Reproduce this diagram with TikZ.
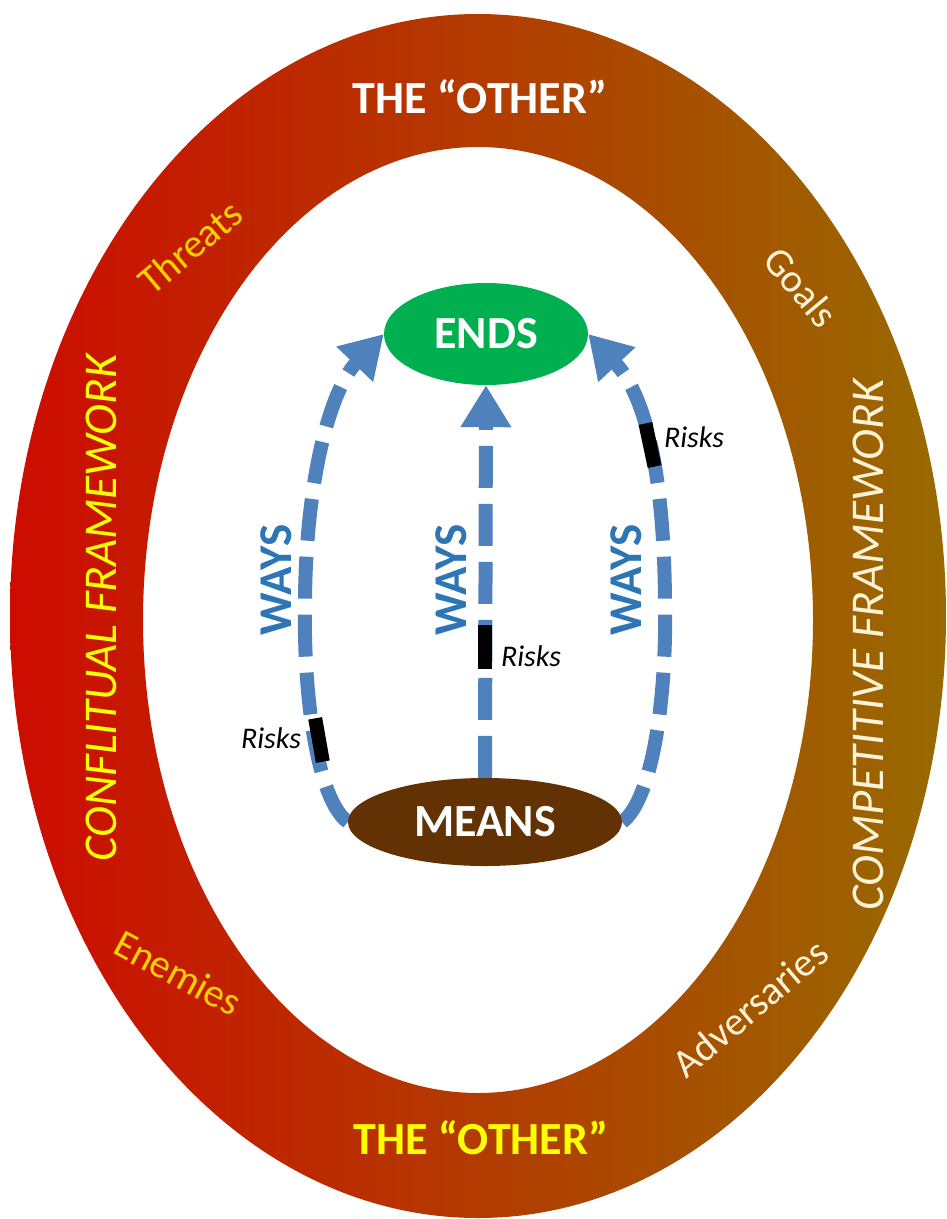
\documentclass[tikz,border=0pt]{standalone}
\usepackage{fontspec}
\setmainfont{Carlito}
\usetikzlibrary{arrows.meta,shapes.geometric}
\pgfdeclarelayer{fg}
\pgfsetlayers{main,fg}
\definecolor{ringL}{RGB}{205,12,0}
\definecolor{ringM}{RGB}{194,62,0}
\definecolor{ringR}{RGB}{152,106,0}
\definecolor{waysblue}{RGB}{46,117,182}
\definecolor{arrowblue}{RGB}{79,129,189}
\definecolor{endsgreen}{RGB}{0,176,80}
\definecolor{meansbrown}{RGB}{99,50,4}
\definecolor{goldtext}{RGB}{255,208,0}
\definecolor{creamtext}{RGB}{255,242,214}
\definecolor{brightyellow}{RGB}{255,255,0}
\tikzset{
  ringtitle/.style={font=\fontsize{46}{50}\selectfont\bfseries},
  frametext/.style={font=\fontsize{47}{50}\selectfont\itshape, rotate=90},
  cornertext/.style={font=\fontsize{40}{42}\selectfont},
  waystext/.style={font=\fontsize{47}{50}\selectfont\bfseries, text=waysblue, rotate=90},
  riskstext/.style={font=\fontsize{30}{32}\selectfont\itshape, text=black},
  riskmark/.style={fill=black, minimum width=14pt, minimum height=44pt, inner sep=0pt},
  goalnode/.style={ellipse, inner sep=0pt, text=white, font=\fontsize{46}{50}\selectfont\bfseries},
  waysarrow/.style={draw=arrowblue, line width=14pt, dash pattern=on 42pt off 16pt,
    -{Triangle[width=48pt,length=42pt]}}
}
\begin{document}
\begin{tikzpicture}[x=1pt,y=-1pt]
\useasboundingbox (0,0) rectangle (946,1219);
\fill[white] (0,0) rectangle (946,1219);
% ring
\shade[left color=ringL, middle color=ringM, right color=ringR, even odd rule]
  (478,616) ellipse [x radius=468, y radius=602]
  (478,620) ellipse [x radius=335, y radius=473];

% ring texts
\node[ringtitle, text=white] (othertop) at (480,97) {THE “OTHER”};
\node[ringtitle, text=brightyellow] (otherbot) at (481,1138) {THE “OTHER”};
\node[frametext, text=brightyellow] (conflitual) at (101,608) {CONFLITUAL FRAMEWORK};
\node[frametext, text=creamtext] (competitive) at (868,645) {COMPETITIVE FRAMEWORK};
\node[cornertext, text=goldtext, rotate=40] (threats) at (190,247) {Threats};
\node[cornertext, text=creamtext, rotate=-50] (goals) at (801,287) {Goals};
\node[cornertext, text=goldtext, rotate=-28] (enemies) at (178,973) {Enemies};
\node[cornertext, text=creamtext, rotate=40] (adversaries) at (750,1008) {Adversaries};

% ends / means on the foreground layer
\begin{pgfonlayer}{fg}
\node[goalnode, fill=endsgreen, minimum width=204pt, minimum height=102pt] (ends) at (486,334) {ENDS};
\node[goalnode, fill=meansbrown, minimum width=274pt, minimum height=88pt] (means) at (485,822) {MEANS};
\end{pgfonlayer}

\coordinate (lmid) at (305,600);
\coordinate (rmid) at (665,600);

% ways arrows
\draw[waysarrow] (means.west) .. controls (318,800) and (303,700) .. (lmid)
  .. controls (306,480) and (330,390) .. (ends.west);
\draw[waysarrow] (means.north) -- (ends.south);
\draw[waysarrow] (means.east) .. controls (652,800) and (667,700) .. (rmid)
  .. controls (664,490) and (650,400) .. (ends.east);

% risk marks
\node[riskmark, rotate=10] (riskL) at (319,740) {};
\node[riskmark] (riskM) at (485,647) {};
\node[riskmark, rotate=12] (riskR) at (650,445) {};
\node[riskstext] (risksL) at (271,738) {Risks};
\node[riskstext] (risksM) at (531,656) {Risks};
\node[riskstext] (risksR) at (694,437) {Risks};

% ways labels
\node[waystext] (waysL) at (276,580) {WAYS};
\node[waystext] (waysM) at (451,580) {WAYS};
\node[waystext] (waysR) at (626,580) {WAYS};
\end{tikzpicture}
\end{document}
